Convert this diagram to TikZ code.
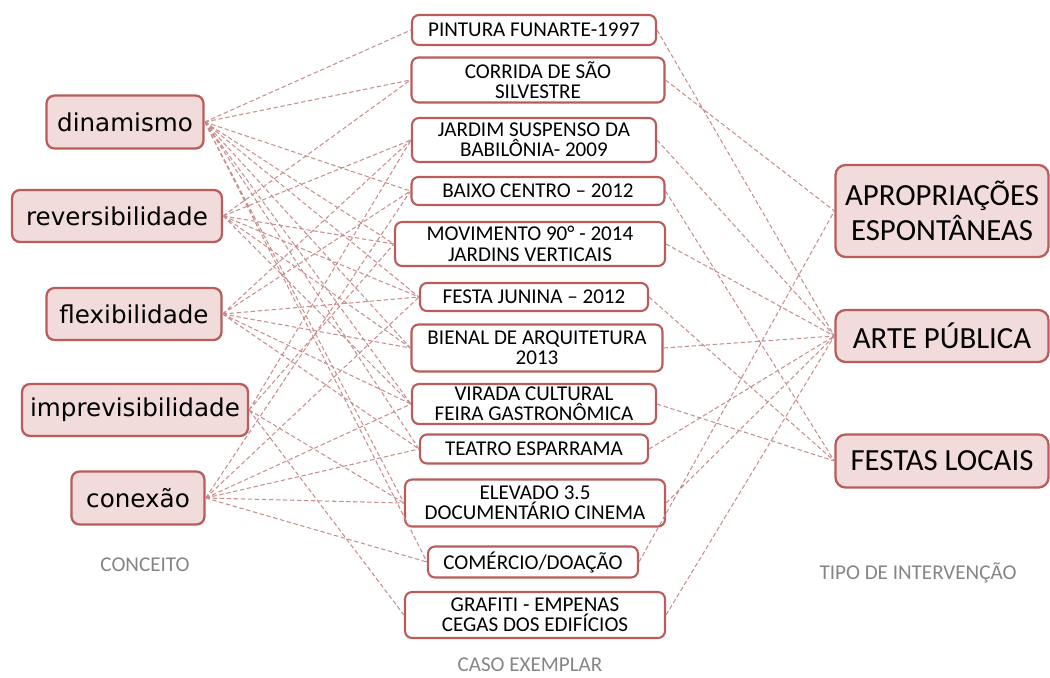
\documentclass[tikz,border=0pt]{standalone}
\usepackage{fontspec}
\setmainfont{Carlito}
\newfontfamily\conceitofont{DejaVu Sans}
\usetikzlibrary{positioning}
\definecolor{caseBorder}{HTML}{B95C5A}
\definecolor{caseFill}{HTML}{F2DCDB}
\definecolor{caseLink}{HTML}{C98E8C}
\definecolor{caseLabel}{HTML}{858585}
\tikzset{
  conceito/.style={
    rectangle, rounded corners=0.16cm, draw=caseBorder, line width=1.3pt, fill=caseFill,
    inner sep=0pt, font=\conceitofont\fontsize{14}{16}\selectfont
  },
  caso/.style={
    rectangle, rounded corners=0.14cm, draw=caseBorder, line width=1.2pt, fill=white,
    inner sep=0pt, align=center, font=\fontsize{12}{11.6}\selectfont
  },
  tipo/.style={
    rectangle, rounded corners=0.2cm, draw=caseBorder, line width=1.3pt, fill=caseFill,
    inner sep=0pt, align=center, minimum width=4.26cm, font=\fontsize{17.5}{20}\selectfont
  },
  legenda/.style={text=caseLabel, font=\fontsize{12}{13}\selectfont},
  link/.style={draw=caseLink, line width=0.6pt, dash pattern=on 2.5pt off 1.5pt}
}

\begin{document}
\begin{tikzpicture}[x=0.02cm, y=-0.02cm]
    \useasboundingbox (0,0) rectangle (1050,677);
    % conceitos
    \node[conceito, minimum width=3.14cm, minimum height=1.06cm] (din) at (125,122) {dinamismo};
    \node[conceito, minimum width=4.2cm, minimum height=1.04cm] (rev) at (117,216) {reversibilidade};
    \node[conceito, minimum width=3.5cm, minimum height=1.04cm] (fle) at (134,314) {flexibilidade};
    \node[conceito, minimum width=4.52cm, minimum height=1.04cm] (imp) at (135,410) {imprevisibilidade};
    \node[conceito, minimum width=2.66cm, minimum height=1.06cm] (con) at (138,498) {conexão};
    \node[legenda] (lconc) at (145,565) {CONCEITO};
    % casos exemplares
    \node[caso, minimum width=4.88cm, minimum height=0.6cm] (pin) at (534,30) {PINTURA FUNARTE-1997};
    \node[caso, minimum width=5.06cm, minimum height=0.9cm] (cor) at (538,80) {CORRIDA DE SÃO\\SILVESTRE};
    \node[caso, minimum width=4.88cm, minimum height=0.88cm] (jar) at (534,140) {JARDIM SUSPENSO DA\\BABILÔNIA- 2009};
    \node[caso, minimum width=5.06cm, minimum height=0.56cm] (bai) at (538,191) {BAIXO CENTRO – 2012};
    \node[caso, minimum width=5.4cm, minimum height=0.88cm] (mov) at (530,244) {MOVIMENTO 90° - 2014\\JARDINS VERTICAIS};
    \node[caso, minimum width=4.56cm, minimum height=0.56cm] (fes) at (534,297) {FESTA JUNINA – 2012};
    \node[caso, minimum width=5.02cm, minimum height=0.94cm] (bie) at (537,348) {BIENAL DE ARQUITETURA\\2013};
    \node[caso, minimum width=4.88cm, minimum height=0.8cm] (vir) at (534,404) {VIRADA CULTURAL\\FEIRA GASTRONÔMICA};
    \node[caso, minimum width=4.56cm, minimum height=0.58cm] (tea) at (534,449) {TEATRO ESPARRAMA};
    \node[caso, minimum width=5.2cm, minimum height=0.94cm] (ele) at (535,503) {ELEVADO 3.5\\DOCUMENTÁRIO CINEMA};
    \node[caso, minimum width=4.2cm, minimum height=0.62cm] (com) at (533,562) {COMÉRCIO/DOAÇÃO};
    \node[caso, minimum width=5.2cm, minimum height=0.92cm] (gra) at (535,615) {GRAFITI - EMPENAS\\CEGAS DOS EDIFÍCIOS};
    \node[legenda] (lcaso) at (530,665) {CASO EXEMPLAR};
    % tipos de intervencao
    \node[tipo, minimum height=1.84cm] (apr) at (942,211) {APROPRIAÇÕES\\ESPONTÂNEAS};
    \node[tipo, minimum height=1.04cm] (art) at (942,336) {ARTE PÚBLICA};
    \node[tipo, minimum height=1.06cm] (fst) at (942,461) {FESTAS LOCAIS};
    \node[legenda] (ltipo) at (918,573) {TIPO DE INTERVENÇÃO};
    % conceito -> caso
    \draw[link] (din.east) -- (pin.west) (din.east) -- (cor.west) (din.east) -- (bai.west)
      (din.east) -- (mov.west) (din.east) -- (fes.west) (din.east) -- (bie.west)
      (din.east) -- (vir.west) (din.east) -- (tea.west) (din.east) -- (ele.west)
      (din.east) -- (com.west);
    \draw[link] (rev.east) -- (cor.west) (rev.east) -- (jar.west) (rev.east) -- (mov.west)
      (rev.east) -- (fes.west) (rev.east) -- (bie.west) (rev.east) -- (vir.west);
    \draw[link] (fle.east) -- (jar.west) (fle.east) -- (bai.west) (fle.east) -- (fes.west)
      (fle.east) -- (bie.west) (fle.east) -- (vir.west) (fle.east) -- (tea.west);
    \draw[link] (imp.east) -- (jar.west) (imp.east) -- (mov.west) (imp.east) -- (ele.west)
      (imp.east) -- (gra.west);
    \draw[link] (con.east) -- (bai.west) (con.east) -- (fes.west) (con.east) -- (vir.west)
      (con.east) -- (tea.west) (con.east) -- (ele.west) (con.east) -- (com.west);
    % caso -> tipo
    \draw[link] (pin.east) -- (art.west) (cor.east) -- (apr.west) (jar.east) -- (art.west)
      (bai.east) -- (fst.west) (mov.east) -- (art.west) (fes.east) -- (fst.west)
      (bie.east) -- (art.west) (vir.east) -- (fst.west) (tea.east) -- (art.west)
      (ele.east) -- (art.west) (com.east) -- (apr.west) (gra.east) -- (art.west);
\end{tikzpicture}
\end{document}
